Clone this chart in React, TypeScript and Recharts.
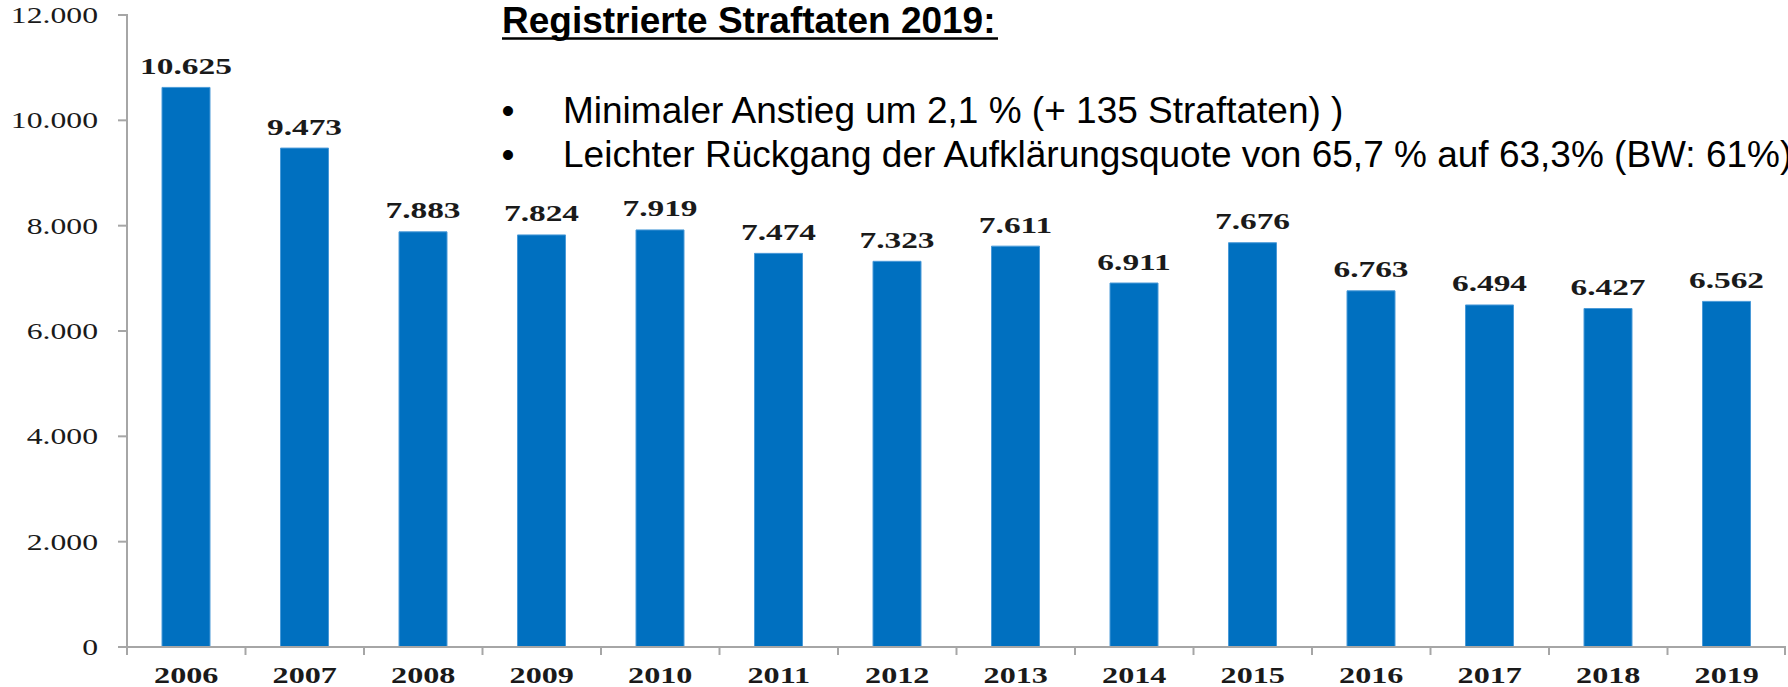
import React from "react";
import { BarChart, Bar, XAxis, YAxis, LabelList } from "recharts";

const years = ["2006", "2007", "2008", "2009", "2010", "2011", "2012", "2013", "2014", "2015", "2016", "2017", "2018", "2019"];
const offences = [10625, 9473, 7883, 7824, 7919, 7474, 7323, 7611, 6911, 7676, 6763, 6494, 6427, 6562];
const yTicks = [0, 2000, 4000, 6000, 8000, 10000, 12000];
const title = "Registrierte Straftaten 2019:";
const bullets = [
  "Minimaler Anstieg um 2,1 % (+ 135 Straftaten) )",
  "Leichter Rückgang der Aufklärungsquote von 65,7 % auf 63,3% (BW: 61%)",
];

const data = years.map((y, i) => ({ year: y, value: offences[i] }));

const fmt = (v: number) => String(v).replace(/\B(?=(\d{3})+(?!\d))/g, ".");

const SERIF = "'Liberation Serif', 'Times New Roman', serif";
const SANS = "'Liberation Sans', Arial, sans-serif";
const AXIS = "#A6A6A6";

const YTick = (props: any) => {
  const { x, y, payload } = props;
  return (
    <g>
      <line x1={x - 1} x2={x + 9} y1={y} y2={y} stroke={AXIS} strokeWidth={2} />
      <text
        transform={`translate(${x - 21},${y + 8}) scale(1.35,1)`}
        textAnchor="end"
        fontFamily={SERIF}
        fontSize={23.5}
        fill="#1a1a1a"
      >
        {fmt(payload.value)}
      </text>
    </g>
  );
};

const XTick = (props: any) => {
  const { x, y, payload, index, width, visibleTicksCount } = props;
  const band = width / visibleTicksCount;
  const isLast = index === visibleTicksCount - 1;
  return (
    <g>
      <line x1={x - band / 2} x2={x - band / 2} y1={y - 8} y2={y} stroke={AXIS} strokeWidth={2} />
      {isLast && <line x1={x + band / 2 - 1} x2={x + band / 2 - 1} y1={y - 8} y2={y} stroke={AXIS} strokeWidth={2} />}
      <text
        transform={`translate(${x},${y + 28}) scale(1.4,1)`}
        textAnchor="middle"
        fontFamily={SERIF}
        fontWeight="bold"
        fontSize={23}
        fill="#1a1a1a"
      >
        {payload.value}
      </text>
    </g>
  );
};

const ValueLabel = (props: any) => {
  const { x, y, width, value } = props;
  return (
    <text
      transform={`translate(${x + width / 2},${y - 13.5}) scale(1.44,1)`}
      textAnchor="middle"
      fontFamily={SERIF}
      fontWeight="bold"
      fontSize={23.2}
      fill="#1a1a1a"
    >
      {fmt(value)}
    </text>
  );
};

export default function App() {
  return (
    <div style={{ position: "absolute", left: 0, top: 0, width: 1788, height: 687, background: "#fff", overflow: "hidden" }}>
      <BarChart
        width={1788}
        height={687}
        data={data}
        margin={{ top: 15, right: 2, left: 0, bottom: 0 }}
        barSize={48}
      >
        <XAxis
          dataKey="year"
          height={40}
          axisLine={{ stroke: AXIS, strokeWidth: 2 }}
          tickLine={false}
          tick={<XTick />}
          interval={0}
        />
        <YAxis
          width={127}
          domain={[0, 12000]}
          ticks={yTicks}
          axisLine={{ stroke: AXIS, strokeWidth: 2 }}
          tickLine={false}
          tick={<YTick />}
          interval={0}
        />
        <Bar dataKey="value" fill="#0070C0" stroke="#4a9ad8" strokeWidth={1} isAnimationActive={false}>
          <LabelList dataKey="value" content={<ValueLabel />} />
        </Bar>
      </BarChart>
      <svg width={1788} height={687} style={{ position: "absolute", left: 0, top: 0, pointerEvents: "none" }}>
        <text x={502} y={33} fontFamily={SANS} fontWeight="bold" fontSize={37} fill="#000">
          {title}
        </text>
        <line x1={502} x2={998} y1={38.5} y2={38.5} stroke="#000" strokeWidth={2.5} />
        {bullets.map((b, i) => (
          <g key={i}>
            <text x={508} y={123 + i * 44} fontFamily={SANS} fontSize={37} fill="#000" textAnchor="middle">
              •
            </text>
            <text x={563} y={123 + i * 44} fontFamily={SANS} fontSize={37} fill="#000">
              {b}
            </text>
          </g>
        ))}
      </svg>
    </div>
  );
}
